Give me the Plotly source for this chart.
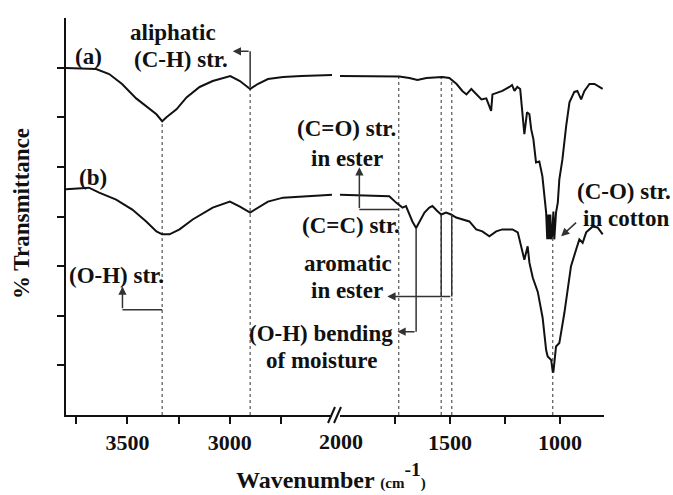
import numpy as np
import plotly.graph_objects as go

# ---------------- data ----------------
# curve (a) : untreated cotton, left segment (3800-2500 cm-1)
wn_a_left = [3800, 3700, 3653, 3589, 3526, 3457, 3408, 3358, 3330, 3309, 3260, 3211,
             3147, 3083, 2997, 2950, 2900, 2863, 2813, 2739, 2650, 2500]
tr_a_left = [6.99, 6.98, 6.97, 6.87, 6.67, 6.38, 6.22, 6.06, 5.92, 6.00, 6.16, 6.40,
             6.61, 6.73, 6.83, 6.73, 6.57, 6.67, 6.77, 6.81, 6.83, 6.85]
# curve (a) right segment (2000-800 cm-1)
wn_a_right = [2000, 1730, 1685, 1648, 1607, 1535, 1503, 1470, 1444, 1425, 1403, 1380,
              1357, 1335, 1321, 1313, 1307, 1275, 1262, 1230, 1218, 1207, 1194, 1181,
              1171, 1162, 1150, 1139, 1131, 1121, 1109, 1094, 1080, 1071, 1063, 1058,
              1053, 1049, 1044, 1040, 1036, 1030, 1026, 1018, 1010, 1003, 989, 972,
              957, 935, 921, 904, 889, 866, 843, 806]
tr_a_right = [6.83, 6.82, 6.79, 6.75, 6.79, 6.81, 6.79, 6.67, 6.53, 6.46, 6.57, 6.46,
              6.36, 6.38, 6.23, 6.13, 6.46, 6.51, 6.53, 6.61, 6.65, 6.53, 6.61, 6.57,
              6.10, 5.66, 6.10, 6.06, 5.76, 5.56, 5.09, 5.11, 4.81, 4.34, 4.08, 3.54,
              4.04, 3.54, 4.04, 3.54, 3.60, 4.10, 3.54, 4.08, 4.28, 4.75, 5.15, 5.82,
              6.30, 6.51, 6.53, 6.36, 6.53, 6.67, 6.67, 6.57]

# curve (b) : treated cotton
wn_b_left = [3800, 3688, 3638, 3555, 3476, 3408, 3358, 3330, 3294, 3245, 3181, 3083,
             2999, 2950, 2900, 2863, 2813, 2739, 2500]
tr_b_left = [4.55, 4.58, 4.48, 4.34, 4.14, 3.90, 3.70, 3.64, 3.64, 3.74, 3.94, 4.18,
             4.30, 4.20, 4.08, 4.18, 4.30, 4.38, 4.44]
wn_b_right = [2000, 1776, 1745, 1730, 1716, 1700, 1685, 1671, 1654, 1639, 1616, 1594,
              1580, 1558, 1540, 1518, 1495, 1472, 1444, 1412, 1381, 1353, 1321, 1290,
              1262, 1216, 1192, 1177, 1162, 1147, 1139, 1124, 1101, 1079, 1063, 1056,
              1040, 1033, 1030, 1018, 1003, 980, 965, 950, 927, 912, 897, 881, 851,
              829, 806]
tr_b_right = [4.44, 4.41, 4.28, 4.22, 4.18, 4.21, 4.04, 3.90, 3.77, 3.90, 4.08, 4.18,
              4.21, 4.11, 4.04, 4.08, 4.04, 3.98, 3.94, 3.90, 3.74, 3.70, 3.60, 3.70,
              3.74, 3.74, 3.68, 3.40, 3.13, 3.40, 3.07, 2.77, 2.48, 1.96, 1.31, 1.18,
              1.11, 0.87, 0.87, 1.38, 1.45, 2.06, 2.53, 3.00, 3.33, 3.54, 3.47, 3.68,
              3.80, 3.78, 3.64]

# band positions marked with dotted lines (cm-1)
peaks_left = [3330, 2900]
peaks_right = [1733, 1540, 1492, 1033]

# tick labels
ticks_left = [3750, 3500, 3250, 3000, 2750]
ticklabels_left = ["", "3500", "", "3000", ""]
ticks_right = [1750, 1500, 1250, 1000]
ticklabels_right = ["", "1500", "", "1000"]

# ---------------- layout geometry ----------------
W, H = 673, 495
L, R, T, B = 66, 604, 18, 415
PW, PH = R - L, B - T


def px(xp):
    return (xp - L) / PW


def py(yp):
    return (B - yp) / PH


FONT = "Liberation Serif"
BLACK = "#111111"

fig = go.Figure()

line_style = dict(color=BLACK, width=2)
fig.add_trace(go.Scatter(x=wn_a_left, y=tr_a_left, mode="lines", line=line_style,
                         xaxis="x", yaxis="y", hoverinfo="skip"))
fig.add_trace(go.Scatter(x=wn_a_right, y=tr_a_right, mode="lines", line=line_style,
                         xaxis="x2", yaxis="y", hoverinfo="skip"))
fig.add_trace(go.Scatter(x=wn_b_left, y=tr_b_left, mode="lines", line=line_style,
                         xaxis="x", yaxis="y", hoverinfo="skip"))
fig.add_trace(go.Scatter(x=wn_b_right, y=tr_b_right, mode="lines", line=line_style,
                         xaxis="x2", yaxis="y", hoverinfo="skip"))

shapes = []
# dotted band lines from curve (a) down to the axis
for p in peaks_left:
    top = float(np.interp(p, wn_a_left[::-1], tr_a_left[::-1]))
    shapes.append(dict(type="line", xref="x", yref="y", x0=p, x1=p, y0=0, y1=top,
                       line=dict(color="#555555", width=1.2, dash="dot"), layer="below"))
for p in peaks_right:
    top = float(np.interp(p, wn_a_right[::-1], tr_a_right[::-1]))
    shapes.append(dict(type="line", xref="x2", yref="y", x0=p, x1=p, y0=0, y1=top,
                       line=dict(color="#555555", width=1.2, dash="dot"), layer="below"))

conn = dict(color="#333333", width=1.5)
# C-H connector
shapes.append(dict(type="line", xref="x", yref="y", x0=2900, x1=2900, y0=6.61, y1=7.33, line=conn))
# C=O connector
shapes.append(dict(type="line", xref="x2", yref="y", x0=1733, x1=1912, y0=4.14, y1=4.14, line=conn))
# C=C aromatic connectors
shapes.append(dict(type="line", xref="x2", yref="y", x0=1540, x1=1540, y0=4.04, y1=2.39, line=conn))
shapes.append(dict(type="line", xref="x2", yref="y", x0=1492, x1=1492, y0=4.04, y1=2.39, line=conn))
# O-H bending connector
shapes.append(dict(type="line", xref="x2", yref="y", x0=1654, x1=1654, y0=3.77, y1=1.68, line=conn))
# O-H str connector
shapes.append(dict(type="line", xref="x", yref="y", x0=3330, x1=3524, y0=2.12, y1=2.12, line=conn))

# axis break marks
for dx in (0, 6):
    shapes.append(dict(type="line", xref="paper", yref="paper",
                       x0=px(328 + dx), y0=py(423), x1=px(335 + dx), y1=py(407),
                       line=dict(color=BLACK, width=2)))

annotations = []


def arrow(xr, x, y, ax, ay):
    annotations.append(dict(xref=xr, yref="y", axref=xr, ayref="y", x=x, y=y, ax=ax, ay=ay,
                            text="", showarrow=True, arrowhead=2, arrowsize=1.1,
                            arrowwidth=1.5, arrowcolor="#333333", standoff=0, startstandoff=0))


arrow("x", 2985, 7.33, 2900, 7.33)
arrow("x2", 1912, 4.99, 1912, 4.14)
arrow("x2", 1785, 2.39, 1492, 2.39)
arrow("x2", 1739, 1.68, 1654, 1.68)
arrow("x", 3524, 2.59, 3524, 2.12)
arrow("x2", 995, 3.60, 920, 3.905)


def label(text, xp, yp, size=23):
    annotations.append(dict(xref="paper", yref="paper", x=px(xp), y=py(yp), text=text,
                            showarrow=False, xanchor="center", yanchor="middle",
                            font=dict(family=FONT, size=size, color=BLACK, weight="bold")))


label("aliphatic", 173, 32)
label("(C-H) str.", 181, 59)
label("(a)", 88, 57)
label("(b)", 93, 177)
label("(C=O) str.", 346, 128)
label("in ester", 347, 158)
label("(C=C) str.", 351, 225)
label("aromatic", 348, 263)
label("in ester", 347, 290)
label("(O-H) bending", 321, 333)
label("of moisture", 321, 360)
label("(O-H) str.", 116, 276)
label("(C-O) str.", 624, 192)
label("in cotton", 626, 218)
label("2000", 341, 441, size=22)

# axis titles
annotations.append(dict(xref="paper", yref="paper", x=px(331), y=py(476),
                        text="Wavenumber <span style='font-size:15px'>(cm</span><span style='font-size:28px'><sup>-1</sup></span><span style='font-size:15px'>)</span>",
                        showarrow=False, xanchor="center", yanchor="middle",
                        font=dict(family=FONT, size=24, color=BLACK, weight="bold")))
annotations.append(dict(xref="paper", yref="paper", x=px(21), y=py(214),
                        text="% Transmittance", textangle=-90,
                        showarrow=False, xanchor="center", yanchor="middle",
                        font=dict(family=FONT, size=23, color=BLACK, weight="bold")))

axis_common = dict(showline=True, linewidth=2, linecolor=BLACK, ticks="outside",
                   ticklen=7, tickwidth=1.5, tickcolor=BLACK, showgrid=False,
                   zeroline=False, mirror=False,
                   tickfont=dict(family=FONT, size=22, color=BLACK, weight="bold"))

fig.update_layout(
    width=W, height=H,
    margin=dict(l=L, r=W - R, t=T, b=H - B, pad=0),
    paper_bgcolor="white", plot_bgcolor="white",
    showlegend=False,
    xaxis=dict(domain=[0, px(332)], range=[3800, 2500], tickvals=ticks_left,
               ticktext=ticklabels_left, anchor="y", **axis_common),
    xaxis2=dict(domain=[px(340), 1], range=[2000, 800], tickvals=ticks_right,
                ticktext=ticklabels_right, anchor="y", **axis_common),
    yaxis=dict(range=[0, 8], tickvals=[1, 2, 3, 4, 5, 6, 7], showticklabels=False,
               anchor="x", showline=True, linewidth=2, linecolor=BLACK, ticks="outside",
               ticklen=7, tickwidth=1.5, tickcolor=BLACK, showgrid=False, zeroline=False),
    shapes=shapes,
    annotations=annotations,
)

fig.write_html("out.html")
